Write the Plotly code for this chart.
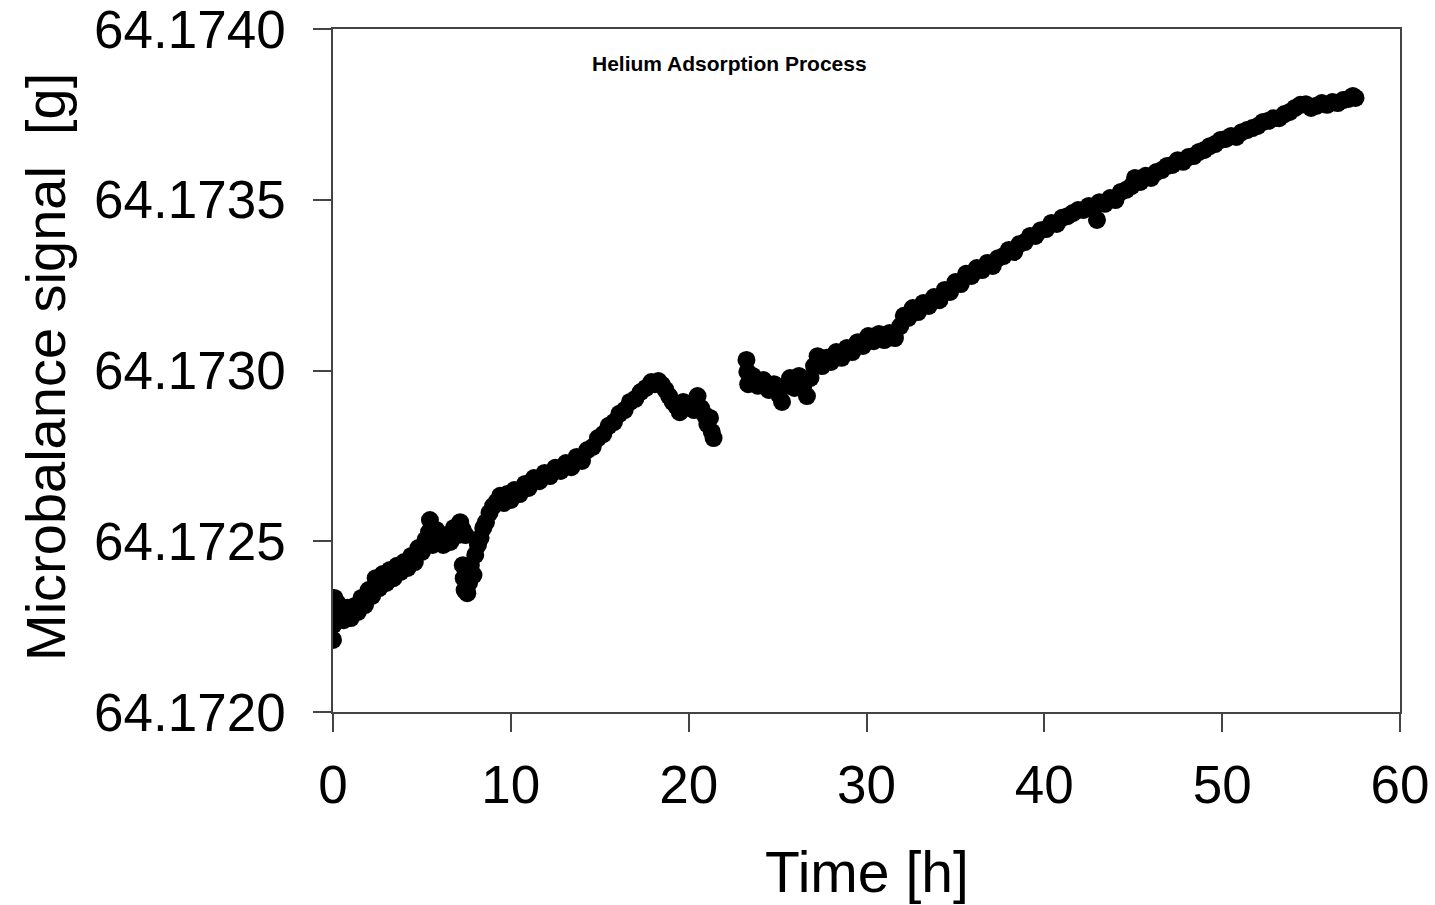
import plotly.graph_objects as go

# Segment 1 (0 - 7.5 h)
t1 = [0.00, 0.02, 0.05, 0.08, 0.12, 0.25, 0.4, 0.6, 0.8, 1.0, 1.2, 1.4, 1.6, 1.8,
      2.0, 2.2, 2.4, 2.6, 2.8, 3.0, 3.2, 3.4, 3.6, 3.8, 4.0, 4.2, 4.4, 4.6, 4.8,
      5.0, 5.2, 5.4, 5.45, 5.6, 5.8, 6.0, 6.2, 6.4, 6.6, 6.8, 7.0, 7.15, 7.3, 7.45]
w1 = [64.172211, 64.172255, 64.172313, 64.172334, 64.172284, 64.172319, 64.172293,
      64.172269, 64.172305, 64.172275, 64.172310, 64.172293, 64.172334, 64.172313,
      64.172357, 64.172340, 64.172392, 64.172363, 64.172404, 64.172378, 64.172416,
      64.172392, 64.172428, 64.172410, 64.172439, 64.172422, 64.172457, 64.172439,
      64.172480, 64.172469, 64.172504, 64.172527, 64.172562, 64.172489, 64.172533,
      64.172504, 64.172489, 64.172518, 64.172498, 64.172539, 64.172518, 64.172556,
      64.172533, 64.172518]

# Segment 2 (7.3 - 21.4 h)
t2 = [7.3, 7.35, 7.4, 7.5, 7.55, 7.65, 7.75, 7.9, 8.0, 8.15, 8.3, 8.45, 8.6, 8.8,
      9.0, 9.2, 9.4, 9.6, 9.8, 10.0, 10.2, 10.5, 10.8, 11.0, 11.3, 11.6, 11.9,
      12.2, 12.5, 12.8, 13.1, 13.4, 13.7, 14.0, 14.3, 14.6, 14.9, 15.2, 15.5,
      15.8, 16.1, 16.4, 16.7, 17.0, 17.3, 17.6, 17.9, 18.1, 18.3, 18.5, 18.7,
      18.9, 19.1, 19.3, 19.5, 19.7, 19.9, 20.1, 20.3, 20.5, 20.7, 20.9, 21.05,
      21.2, 21.3, 21.4]
w2 = [64.172430, 64.172392, 64.172357, 64.172410, 64.172348, 64.172378, 64.172430,
      64.172401, 64.172460, 64.172489, 64.172510, 64.172539, 64.172556, 64.172583,
      64.172603, 64.172615, 64.172633, 64.172612, 64.172638, 64.172621, 64.172650,
      64.172638, 64.172668, 64.172656, 64.172685, 64.172676, 64.172700, 64.172691,
      64.172715, 64.172706, 64.172729, 64.172717, 64.172747, 64.172735, 64.172767,
      64.172776, 64.172802, 64.172814, 64.172838, 64.172849, 64.172873, 64.172884,
      64.172908, 64.172917, 64.172937, 64.172949, 64.172966, 64.172960, 64.172969,
      64.172958, 64.172943, 64.172925, 64.172908, 64.172896, 64.172878, 64.172908,
      64.172893, 64.172902, 64.172884, 64.172925, 64.172890, 64.172870, 64.172843,
      64.172861, 64.172820, 64.172802]

# Segment 3 (23.25 - 57.5 h)
t3 = [23.25, 23.3, 23.35, 23.6, 23.9, 24.2, 24.5, 24.8, 25.05, 25.25, 25.45, 25.7,
      25.95, 26.2, 26.45, 26.65, 26.85, 27.05, 27.25, 27.5, 27.75, 28.0, 28.3,
      28.6, 28.9, 29.2, 29.5, 29.8, 30.1, 30.4, 30.7, 31.0, 31.3, 31.6, 31.9,
      32.1, 32.35, 32.6, 32.9, 33.2, 33.5, 33.8, 34.1, 34.4, 34.7, 35.0, 35.3,
      35.6, 35.9, 36.2, 36.5, 36.8, 37.1, 37.4, 37.7, 38.0, 38.3, 38.6, 38.9,
      39.2, 39.5, 39.8, 40.1, 40.4, 40.7, 41.0, 41.3, 41.6, 41.9, 42.2, 42.5,
      42.8, 42.96, 43.1, 43.4, 43.7, 44.0, 44.3, 44.6, 44.9, 45.1, 45.4, 45.7,
      46.0, 46.3, 46.6, 46.9, 47.2, 47.5, 47.8, 48.1, 48.4, 48.7, 49.0, 49.3,
      49.6, 49.9, 50.2, 50.5, 50.8, 51.1, 51.4, 51.7, 52.0, 52.3, 52.6, 52.9,
      53.2, 53.5, 53.8, 54.1, 54.4, 54.7, 55.0, 55.3, 55.6, 55.9, 56.2, 56.5,
      56.8, 57.1, 57.35, 57.5]
w3 = [64.173031, 64.172996, 64.172960, 64.172984, 64.172955, 64.172972, 64.172943,
      64.172960, 64.172931, 64.172908, 64.172955, 64.172978, 64.172949, 64.172984,
      64.172955, 64.172925, 64.172978, 64.173013, 64.173042, 64.173013, 64.173037,
      64.173025, 64.173054, 64.173037, 64.173066, 64.173054, 64.173083, 64.173072,
      64.173101, 64.173086, 64.173107, 64.173089, 64.173110, 64.173095, 64.173130,
      64.173160, 64.173154, 64.173183, 64.173171, 64.173198, 64.173189, 64.173215,
      64.173206, 64.173236, 64.173230, 64.173259, 64.173253, 64.173283, 64.173277,
      64.173300, 64.173294, 64.173315, 64.173306, 64.173329, 64.173335, 64.173353,
      64.173347, 64.173370, 64.173376, 64.173394, 64.173394, 64.173411, 64.173414,
      64.173432, 64.173429, 64.173447, 64.173452, 64.173461, 64.173470, 64.173470,
      64.173482, 64.173476, 64.173441, 64.173493, 64.173488, 64.173505, 64.173499,
      64.173523, 64.173529, 64.173540, 64.173564, 64.173552, 64.173570, 64.173564,
      64.173581, 64.173587, 64.173599, 64.173602, 64.173616, 64.173611, 64.173625,
      64.173628, 64.173640, 64.173646, 64.173657, 64.173663, 64.173675, 64.173678,
      64.173687, 64.173684, 64.173698, 64.173704, 64.173710, 64.173716, 64.173728,
      64.173731, 64.173739, 64.173739, 64.173751, 64.173757, 64.173769, 64.173778,
      64.173780, 64.173769, 64.173775, 64.173783, 64.173778, 64.173786, 64.173783,
      64.173792, 64.173795, 64.173804, 64.173798]

x_ticks = [0, 10, 20, 30, 40, 50, 60]
y_ticks = [64.1720, 64.1725, 64.1730, 64.1735, 64.1740]
y_tick_labels = ["64.1720", "64.1725", "64.1730", "64.1735", "64.1740"]

FONT = "Liberation Sans, Arial, sans-serif"
marker = dict(color="black", size=18, line=dict(width=0))

fig = go.Figure()
for t, w in ((t1, w1), (t2, w2), (t3, w3)):
    fig.add_trace(go.Scatter(x=t, y=w, mode="markers", marker=marker,
                             showlegend=False, hoverinfo="x+y"))

axis_common = dict(showgrid=False, zeroline=False, showline=True, linecolor="#444",
                   linewidth=1.5, mirror=True, ticks="outside", ticklen=18,
                   tickcolor="#444", tickwidth=1.5, automargin=False,
                   ticklabeloverflow="allow",
                   tickfont=dict(family=FONT, size=53, color="black"))

fig.update_xaxes(range=[0, 60], tickvals=x_ticks, ticklabelstandoff=8, **axis_common)
fig.update_yaxes(range=[64.1720, 64.1740], tickvals=y_ticks, ticktext=y_tick_labels,
                 ticklabelstandoff=17, **axis_common)

fig.add_annotation(text="Time [h]", xref="paper", yref="paper", x=0.5, y=-0.234,
                   xanchor="center", yanchor="middle", showarrow=False,
                   font=dict(family=FONT, size=57, color="black"))
fig.add_annotation(text="Microbalance signal  [g]", xref="paper", yref="paper",
                   x=-0.27, y=0.505, xanchor="center", yanchor="middle", textangle=-90,
                   showarrow=False, font=dict(family=FONT, size=56, color="black"))
fig.add_annotation(text="<b>Helium Adsorption Process</b>", xref="paper", yref="paper",
                   x=(729 - 333) / 1067, y=(712 - 64) / 683, xanchor="center",
                   yanchor="middle", showarrow=False,
                   font=dict(family=FONT, size=21, color="black"))

fig.update_layout(width=1435, height=905, margin=dict(l=333, r=35, t=29, b=193),
                  plot_bgcolor="white", paper_bgcolor="white")

fig.write_html("out.html")
